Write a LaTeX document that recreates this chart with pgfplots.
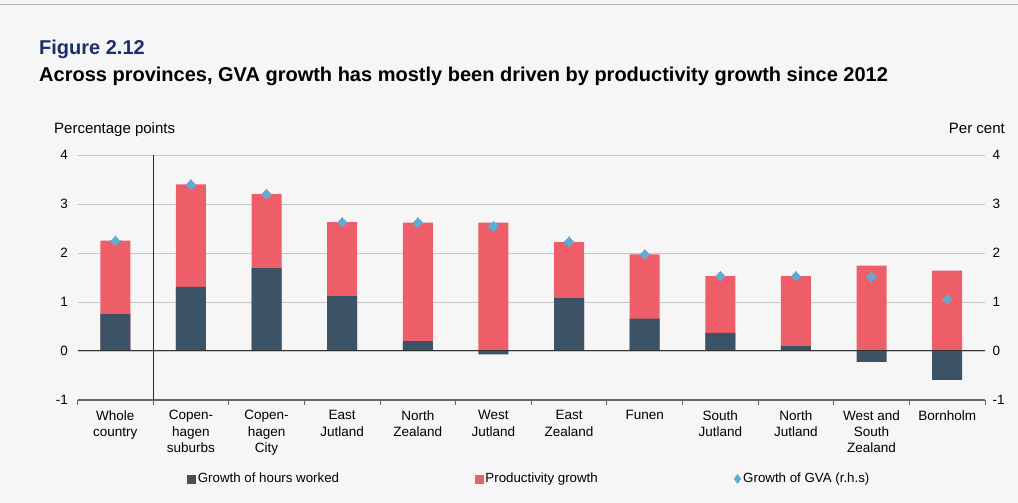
\documentclass[border=0pt]{standalone}
\usepackage{pgfplots}
\usepackage{pgfplotstable}
\pgfplotsset{compat=1.18}
\usepackage{fontspec}
\setmainfont{Liberation Sans}
\definecolor{bg}{HTML}{F6F6F6}
\definecolor{hours}{HTML}{3B5364}
\definecolor{prod}{HTML}{EE5E68}
\definecolor{gva}{HTML}{62ACD3}
\definecolor{navy}{HTML}{1B2F6B}

% x: category index; hours: growth of hours worked; top: top of red bar (positive stack); gva: growth of GVA
\pgfplotstableread{
x hours top gva
0 0.75 2.25 2.25
1 1.31 3.40 3.40
2 1.69 3.20 3.20
3 1.12 2.63 2.63
4 0.20 2.62 2.62
5 -0.07 2.62 2.55
6 1.08 2.22 2.23
7 0.66 1.97 1.97
8 0.37 1.53 1.53
9 0.10 1.53 1.53
10 -0.22 1.74 1.52
11 -0.59 1.64 1.06
}\data

\begin{document}
\begin{tikzpicture}[x=1pt,y=1pt]
\fill[bg] (0,0) rectangle (1018,503);
\draw[gray!60, line width=1pt] (0,498) -- (1018,498);
\node[anchor=base west, inner sep=0, text=navy, font=\bfseries\fontsize{20}{24}\selectfont] at (39,448) {Figure 2.12};
\node[anchor=base west, inner sep=0, font=\bfseries\fontsize{20}{24}\selectfont] at (39,421) {Across provinces, GVA growth has mostly been driven by productivity growth since 2012};
\node[anchor=base west, inner sep=0, font=\fontsize{15}{18}\selectfont] at (54,369) {Percentage points};
\node[anchor=base east, inner sep=0, font=\fontsize{15}{18}\selectfont] at (1005,369) {Per cent};

\begin{axis}[
  at={(77.5pt,103pt)}, anchor=south west,
  width=907.5pt, height=245pt, scale only axis,
  xmin=-0.5, xmax=11.5, ymin=-1, ymax=4,
  ytick={-1,0,...,4},
  ymajorgrids, grid style={gray!45, line width=0.9pt},
  axis x line*=bottom, axis y line*=left,
  y axis line style={draw=none},
  x axis line style={draw=gray!80!black, line width=1.3pt},
  ytick style={draw=none},
  xtick={0,...,11}, major tick length=0pt,
  xticklabels={{Whole\\country},{Copen-\\hagen\\suburbs},{Copen-\\hagen\\City},{East\\Jutland},{North\\Zealand},{West\\Jutland},{East\\Zealand},{Funen},{South\\Jutland},{North\\Jutland},{West and\\South\\Zealand},{Bornholm}},
  xticklabel style={align=center, anchor=north, yshift=-7pt, font=\fontsize{13.5}{16.2}\selectfont},
  yticklabel style={anchor=east, xshift=-6pt, font=\fontsize{13.5}{16}\selectfont},
  /pgf/number format/assume math mode=true,
  extra x ticks={-0.5,0.5,...,11.5},
  extra x tick labels={},
  extra x tick style={major tick length=5pt, tick align=outside, tick style={draw=gray!80!black, line width=1pt}},
]
\addplot[ybar, bar shift=0pt, bar width=30pt, fill=prod, draw=none] table[x=x,y=top]{\data};
\addplot[ybar, bar shift=0pt, bar width=30pt, fill=hours, draw=none] table[x=x,y=hours]{\data};
\draw[black!80, line width=1pt] (axis cs:-0.5,0) -- (axis cs:11.5,0);
\draw[black!85, line width=0.8pt] (axis cs:0.5,-1) -- (axis cs:0.5,4);
\end{axis}

\begin{axis}[
  at={(77.5pt,103pt)}, anchor=south west,
  width=907.5pt, height=245pt, scale only axis,
  xmin=-0.5, xmax=11.5, ymin=-1, ymax=4,
  ytick={-1,0,...,4},
  axis x line=none, axis y line*=right,
  y axis line style={draw=none},
  ytick style={draw=none},
  yticklabel style={anchor=west, xshift=4pt, font=\fontsize{13.5}{16}\selectfont},
  /pgf/number format/assume math mode=true,
  legend columns=3,
  legend style={at={(0.498,-0.322)}, anchor=center, draw=none, fill=none,
    font=\fontsize{13.3}{16}\selectfont,
    /tikz/every even column/.append style={column sep=134pt},
    /tikz/every odd column/.append style={column sep=0pt}},
]
\addlegendimage{legend image code/.code={\fill[hours] (2pt,-4pt) rectangle (10pt,4pt);}}
\addlegendentry{Growth of hours worked}
\addlegendimage{legend image code/.code={\fill[prod] (2pt,-4pt) rectangle (10pt,4pt);}}
\addlegendentry{Productivity growth}
\addplot[only marks, mark=square*, mark size=3.4pt, color=gva, mark options={rotate=45, fill=gva, draw=gva, line width=0pt},
  legend image code/.code={\fill[gva] (6pt,-4.5pt) -- (9.5pt,0pt) -- (6pt,4.5pt) -- (2.5pt,0pt) -- cycle;}]
  table[x=x,y=gva]{\data};
\addlegendentry{Growth of GVA (r.h.s)}
\end{axis}
\pgfresetboundingbox
\path[use as bounding box] (0,0) rectangle (1018,503);
\end{tikzpicture}
\end{document}
